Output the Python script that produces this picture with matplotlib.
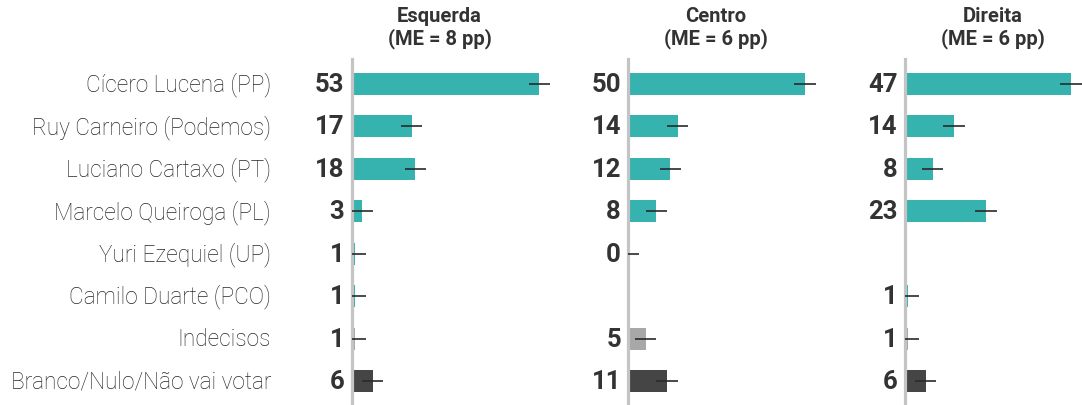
import matplotlib.pyplot as plt
import numpy as np

# categories and values (None = not shown)
candidates = ['Cícero Lucena (PP)', 'Ruy Carneiro (Podemos)',
              'Luciano Cartaxo (PT)', 'Marcelo Queiroga (PL)',
              'Yuri Ezequiel (UP)', 'Camilo Duarte (PCO)',
              'Indecisos', 'Branco/Nulo/Não vai votar']
esquerda = [53, 17, 18, 3, 1, 1, 1, 6]
centro = [50, 14, 12, 8, 0, None, 5, 11]
direita = [47, 14, 8, 23, None, 1, 1, 6]
panel_titles = ['Esquerda\n(ME = 8 pp)', 'Centro\n(ME = 6 pp)', 'Direita\n(ME = 6 pp)']
err = 3

teal = '#36b2af'
bar_colors = [teal] * 6 + ['#a8a8a8', '#454545']
txt = '#333333'

plt.rcParams['font.family'] = ['Roboto', 'DejaVu Sans']

W, H = 1082, 406
fig = plt.figure(figsize=(W / 100, H / 100), dpi=100)

px_per_unit = 3.54
zeros = [351.5, 628, 904.5]
ax_w = 240
top, bottom = 60, 406
n = len(candidates)
row = (382 - 85) / (n - 1)

for i, (vals, title) in enumerate(zip([esquerda, centro, direita], panel_titles)):
    ax = fig.add_axes([zeros[i] / W, (H - bottom) / H, ax_w / W, (bottom - top) / H])
    ax.set_xlim(0, ax_w / px_per_unit)
    ax.set_ylim(n - 1 + (bottom - 382) / row, -(85 - top) / row)
    for s in ['top', 'right', 'bottom']:
        ax.spines[s].set_visible(False)
    ax.spines['left'].set_color('#c4c4c4')
    ax.spines['left'].set_linewidth(2.3)
    ax.set_xticks([])
    ax.set_yticks([])
    ax.patch.set_alpha(0)

    for j, v in enumerate(vals):
        if v is None:
            continue
        ax.barh(j, v, height=0.52, color=bar_colors[j], zorder=2)
        ax.plot([max(v - err, 0), v + err], [j, j], color='#2a2a2a',
                lw=1.2, zorder=3, solid_capstyle='butt')
        ax.text(-7 / px_per_unit, j, str(v), ha='right', va='center',
                fontsize=18.5, fontweight='bold', color=txt)

    ax.text(88 / ax_w, 1 + 32 / (bottom - top), title, transform=ax.transAxes,
            ha='center', va='center', fontsize=14.5, fontweight='bold',
            color=txt, linespacing=1.1)

    if i == 0:
        for j, name in enumerate(candidates):
            ax.text(-(351.5 - 271) / px_per_unit, j, name, ha='right', va='center',
                    fontsize=16.3, fontweight='light', color='#262626')

fig.savefig('out.png', dpi=100)
